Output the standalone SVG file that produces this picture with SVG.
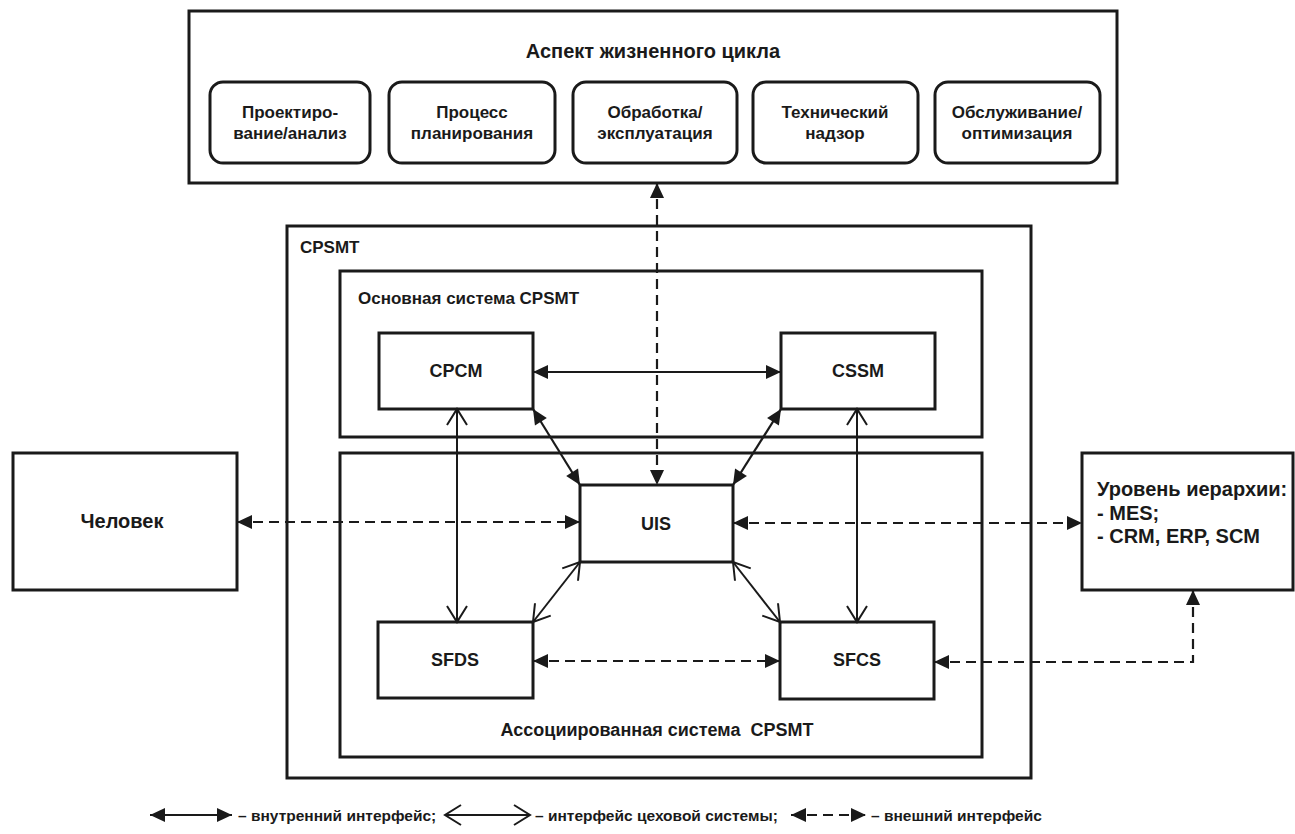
<svg xmlns="http://www.w3.org/2000/svg" width="1295" height="834" viewBox="0 0 1295 834">
  <style>
    .box { fill: #fff; stroke: #1a1a1a; stroke-width: 3; }
    .rbox { fill: #fff; stroke: #1a1a1a; stroke-width: 3; }
    .t { font-family: "Liberation Sans", Arial, sans-serif; font-weight: bold; fill: #1a1a1a; }
    .c { text-anchor: middle; }
    .solid { fill: none; stroke: #1a1a1a; stroke-width: 2.2; }
    .thin { fill: none; stroke: #1a1a1a; stroke-width: 2; }
    .dash { fill: none; stroke: #1a1a1a; stroke-width: 2.2; stroke-dasharray: 10 6; }
    .int { marker-start: url(#headFill); marker-end: url(#headFill); }
    .shop { marker-start: url(#headOpen); marker-end: url(#headOpen); }
  </style>
  <defs>
    <marker id="headFill" markerUnits="userSpaceOnUse" markerWidth="16" markerHeight="14" refX="15" refY="7" orient="auto-start-reverse" overflow="visible">
      <path d="M0,0 L15,7 L0,14 z" fill="#1a1a1a"/>
    </marker>
    <marker id="headOpen" markerUnits="userSpaceOnUse" markerWidth="18" markerHeight="22" refX="16" refY="10" orient="auto-start-reverse" overflow="visible">
      <path d="M0,0 L16,10 L0,20" fill="none" stroke="#1a1a1a" stroke-width="2"/>
    </marker>
  </defs>

  <rect width="1295" height="834" fill="#fff"/>

  <!-- life cycle panel -->
  <g id="lifecycle">
    <rect class="box" x="189" y="11" width="928" height="172"/>
    <text class="t c" x="653" y="58" font-size="20">Аспект жизненного цикла</text>
  </g>
  <g id="stage-design">
    <rect class="rbox" x="210" y="82" width="160" height="81" rx="13"/>
    <text class="t c" x="290" y="118" font-size="17">Проектиро-</text>
    <text class="t c" x="290" y="139" font-size="17">вание/анализ</text>
  </g>
  <g id="stage-planning">
    <rect class="rbox" x="389" y="82" width="166" height="81" rx="13"/>
    <text class="t c" x="472" y="118" font-size="17">Процесс</text>
    <text class="t c" x="472" y="139" font-size="17">планирования</text>
  </g>
  <g id="stage-operation">
    <rect class="rbox" x="573" y="82" width="164" height="81" rx="13"/>
    <text class="t c" x="655" y="118" font-size="17">Обработка/</text>
    <text class="t c" x="655" y="139" font-size="17">эксплуатация</text>
  </g>
  <g id="stage-supervision">
    <rect class="rbox" x="753" y="82" width="165" height="81" rx="13"/>
    <text class="t c" x="835" y="118" font-size="17">Технический</text>
    <text class="t c" x="835" y="139" font-size="17">надзор</text>
  </g>
  <g id="stage-maintenance">
    <rect class="rbox" x="935" y="82" width="165" height="81" rx="13"/>
    <text class="t c" x="1017" y="118" font-size="17">Обслуживание/</text>
    <text class="t c" x="1017" y="139" font-size="17">оптимизация</text>
  </g>

  <!-- CPSMT frame and its two subsystems -->
  <g id="cpsmt">
    <rect class="box" x="287" y="226" width="744" height="552"/>
    <text class="t" x="300" y="253" font-size="17">CPSMT</text>
  </g>
  <g id="core-system">
    <rect class="box" x="340" y="271" width="642" height="166"/>
    <text class="t" x="358" y="304" font-size="17">Основная система CPSMT</text>
  </g>
  <g id="associated-system">
    <rect class="box" x="340" y="453" width="642" height="304"/>
    <text class="t c" x="657" y="736" font-size="18" style="white-space:pre">Ассоциированная система  CPSMT</text>
  </g>

  <!-- modules -->
  <g id="cpcm">
    <rect class="box" x="379" y="333" width="154" height="76"/>
    <text class="t c" x="456" y="377" font-size="18">CPCM</text>
  </g>
  <g id="cssm">
    <rect class="box" x="781" y="333" width="154" height="76"/>
    <text class="t c" x="858" y="377" font-size="18">CSSM</text>
  </g>
  <g id="uis">
    <rect class="box" x="580" y="485" width="153" height="77"/>
    <text class="t c" x="656" y="530" font-size="18">UIS</text>
  </g>
  <g id="sfds">
    <rect class="box" x="378" y="622" width="155" height="76"/>
    <text class="t c" x="455" y="666" font-size="18">SFDS</text>
  </g>
  <g id="sfcs">
    <rect class="box" x="780" y="622" width="154" height="77"/>
    <text class="t c" x="857" y="666" font-size="18">SFCS</text>
  </g>

  <!-- external parties -->
  <g id="human">
    <rect class="box" x="13" y="453" width="224" height="137"/>
    <text class="t c" x="122" y="528" font-size="20">Человек</text>
  </g>
  <g id="hierarchy">
    <rect class="box" x="1082" y="453" width="211" height="137"/>
    <text class="t" x="1097" y="496" font-size="20">Уровень иерархии:</text>
    <text class="t" x="1097" y="520" font-size="20">- MES;</text>
    <text class="t" x="1097" y="543" font-size="20">- CRM, ERP, SCM</text>
  </g>

  <!-- connectors -->
  <g id="connectors">
    <!-- internal interfaces -->
    <line class="solid int" x1="533" y1="372" x2="781" y2="372"/>
    <line class="solid int" x1="533" y1="409" x2="580" y2="485"/>
    <line class="solid int" x1="781" y1="409" x2="733" y2="485"/>
    <!-- shop-floor system interfaces -->
    <line class="thin shop" x1="457" y1="409" x2="457" y2="622"/>
    <line class="thin shop" x1="857" y1="409" x2="857" y2="622"/>
    <line class="thin shop" x1="580" y1="562" x2="533" y2="622"/>
    <line class="thin shop" x1="733" y1="562" x2="780" y2="622"/>
    <!-- external interfaces -->
    <line class="dash int" x1="657" y1="183" x2="657" y2="485"/>
    <line class="dash int" x1="237" y1="522" x2="580" y2="522"/>
    <line class="dash int" x1="733" y1="523" x2="1082" y2="523"/>
    <line class="dash int" x1="533" y1="661" x2="780" y2="661"/>
    <polyline class="dash int" points="934,662 1193,662 1193,590"/>
  </g>

  <!-- legend -->
  <g id="legend">
    <line class="solid int" x1="150" y1="815" x2="232" y2="815"/>
    <text class="t" x="238" y="821" font-size="15.5">– внутренний интерфейс;</text>
    <line class="thin shop" x1="445" y1="815" x2="530" y2="815"/>
    <text class="t" x="535" y="821" font-size="15.5">– интерфейс цеховой системы;</text>
    <line class="dash int" x1="791" y1="815" x2="866" y2="815"/>
    <text class="t" x="871" y="821" font-size="15.5">– внешний интерфейс</text>
  </g>
</svg>
